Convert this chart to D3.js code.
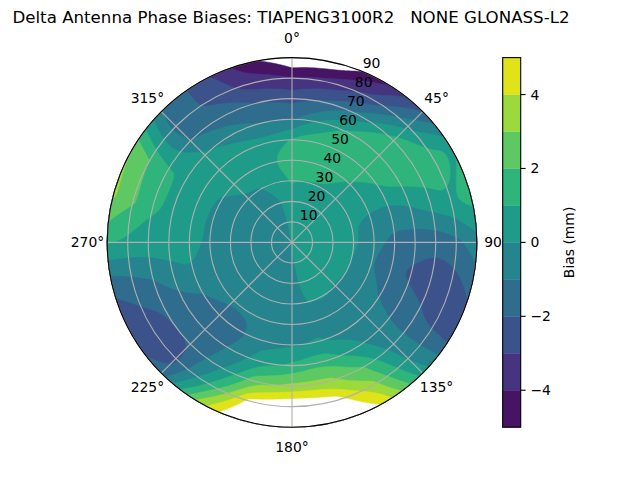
<!DOCTYPE html>
<html>
<head>
<meta charset="utf-8">
<title>Delta Antenna Phase Biases</title>
<script src="https://cdn.jsdelivr.net/npm/d3@7"></script>
<style>
  body { margin: 0; background: #fff; }
  text { font-family: "DejaVu Sans", sans-serif; fill: #000; }
</style>
</head>
<body>
<svg id="chart" width="640" height="480"></svg>
<script>
  // azimuth (deg, clockwise from north) and zenith (deg) nodes of the bias grid
  var azimuths = [0, 15, 30, 45, 60, 75, 90, 105, 120, 135, 150, 165,
                  180, 195, 210, 225, 240, 255, 270, 285, 300, 315, 330, 345];
  var zeniths = [0, 10, 20, 30, 40, 50, 60, 70, 80, 90];

  // bias (mm), one array per zenith ring, ordered by azimuth
  var biasCentre = 0.0;
  var bias10 = [0.3, 0.3, 0.35, 0.35, 0.3, 0.3, 0.3, 0.2, 0.2, 0.2, 0.15, 0.1, -0.1, -0.15, -0.2, -0.2, -0.2, -0.2, -0.3, -0.3, -0.3, -0.25, -0.2, -0.05];
  var bias20 = [0.6, 0.6, 0.65, 0.6, 0.5, 0.4, 0.4, 0.3, 0.25, 0.25, 0.3, 0.15, -0.2, -0.3, -0.35, -0.35, -0.35, -0.35, -0.5, -0.5, -0.5, -0.35, -0.25, 0.0];
  var bias30 = [1.05, 0.95, 0.9, 0.75, 0.5, 0.15, 0.2, 0.0, 0.0, -0.05, 0.05, 0.0, -0.3, -0.45, -0.6, -0.65, -0.5, -0.4, -0.5, -0.5, -0.4, -0.1, -0.05, 0.8];
  var bias40 = [1.6, 1.6, 1.4, 0.9, 0.6, -0.4, -0.7, -1.0, -0.6, -0.4, -0.35, -0.3, -0.4, -0.5, -0.9, -0.9, -0.6, -0.3, -0.2, -0.2, -0.1, 0.3, 0.5, 0.9];
  var bias50 = [1.1, 1.6, 1.7, 1.5, 0.8, -0.6, -1.3, -1.6, -1.1, -0.55, -0.3, 0.1, -0.1, -0.35, -1.2, -1.4, -1.0, -0.05, 0.4, 0.4, 0.4, 0.5, 0.6, 0.3];
  var bias60 = [-1.1, 0.3, 1.4, 1.7, 1.3, -0.2, -1.6, -2.2, -1.5, -0.6, 0.4, 1.8, 1.2, 0.6, -0.9, -1.7, -1.5, -0.4, 0.5, 0.8, 0.8, 0.2, -0.5, -1.0];
  var bias70 = [-2.3, -1.8, -0.5, 1.4, 1.6, 0.4, -1.7, -2.6, -1.8, -0.5, 2.0, 3.3, 3.3, 2.6, -0.2, -2.0, -2.0, -1.0, 0.6, 1.2, 1.2, -1.0, -1.5, -2.0];
  var bias80 = [-4.0, -3.6, -2.6, -0.3, 1.5, 0.9, -1.3, -2.5, -2.25, -0.1, 3.3, 5.6, 6.3, 5.3, 1.2, -2.3, -2.5, -1.5, 0.8, 2.2, 2.0, -1.5, -2.2, -3.5];
  var bias90 = [-6.0, -5.8, -4.2, -2.0, 0.9, 1.5, -0.4, -1.8, -2.6, 0.6, 4.8, 6.8, 7.0, 6.8, 3.5, -1.6, -2.5, -1.9, 1.1, 3.2, 3.0, -0.9, -2.5, -4.6];

  var levels = [-5, -4, -3, -2, -1, 0, 1, 2, 3, 4, 5];
  var colorTicks = [-4, -2, 0, 2, 4];
  var thetaTicks = [0, 45, 90, 135, 180, 225, 270, 315];
  var rTicks = [10, 20, 30, 40, 50, 60, 70, 80, 90];
  var title = "Delta Antenna Phase Biases: TIAPENG3100R2   NONE GLONASS-L2";

  var cx = 292, cy = 242.4, R = 184.8;
  var svg = d3.select("#chart");

  // grid values, the first azimuth repeated at 360 to close the circle
  var rings = [bias10, bias20, bias30, bias40, bias50, bias60, bias70, bias80, bias90];
  var n = azimuths.length + 1, m = zeniths.length;
  var values = [];
  for (var j = 0; j < m; j++) {
    for (var i = 0; i < n; i++) {
      values.push(j === 0 ? biasCentre : rings[j - 1][i % azimuths.length]);
    }
  }

  var contours = d3.contours().size([n, m]).thresholds(levels)(values);

  var azOf = d3.scaleLinear().domain([0.5, n - 0.5]).range([0, 360]).clamp(true);
  var zOf = d3.scaleLinear().domain([0.5, m - 0.5]).range([0, 90]).clamp(true);
  var r = d3.scaleLinear().domain([0, 90]).range([0, R]);

  function project(p) {
    var a = azOf(p[0]) * Math.PI / 180, rr = r(zOf(p[1]));
    return [cx + rr * Math.sin(a), cy - rr * Math.cos(a)];
  }

  // points on the grid border (rim, centre, seam) stay put while smoothing
  function fixed(p) {
    return p[0] <= 0.5 || p[0] >= n - 0.5 || p[1] <= 0.5 || p[1] >= m - 0.5;
  }

  function chaikin(ring) {
    var out = [];
    for (var k = 0; k < ring.length - 1; k++) {
      var a = ring[k], b = ring[k + 1];
      var fa = fixed(a), fb = fixed(b);
      var q = [0.75 * a[0] + 0.25 * b[0], 0.75 * a[1] + 0.25 * b[1]];
      var s = [0.25 * a[0] + 0.75 * b[0], 0.25 * a[1] + 0.75 * b[1]];
      if (fa) out.push(a); else out.push(q);
      if (!fb) out.push(s);
    }
    out.push(out[0]);
    return out;
  }

  function ringPath(ring) {
    for (var it = 0; it < 3; it++) ring = chaikin(ring);
    var pts = [];
    for (var k = 0; k < ring.length - 1; k++) {
      var a = ring[k], b = ring[k + 1];
      for (var s = 0; s < 4; s++) {
        var t = s / 4;
        pts.push(project([a[0] + (b[0] - a[0]) * t, a[1] + (b[1] - a[1]) * t]));
      }
    }
    return "M" + pts.map(function(p) { return p[0].toFixed(2) + "," + p[1].toFixed(2); }).join("L") + "Z";
  }

  function bandColor(v) {
    if (v >= 5) return "#ffffff";
    return d3.interpolateViridis((v + 5.5) / 10);
  }

  svg.append("g").selectAll("path")
    .data(contours)
    .enter().append("path")
      .attr("d", function(d) {
        return d.coordinates.map(function(poly) {
          return poly.map(ringPath).join("");
        }).join("");
      })
      .attr("fill", function(d) { return bandColor(d.value); })
      .attr("stroke", function(d) { return bandColor(d.value); })
      .attr("stroke-width", 0.5)
      .attr("fill-rule", "evenodd");

  // grid
  var grid = svg.append("g").attr("stroke", "#b0b0b0").attr("stroke-width", 1.1).attr("fill", "none");
  grid.selectAll("circle")
    .data(rTicks)
    .enter().append("circle")
      .attr("cx", cx).attr("cy", cy)
      .attr("r", function(d) { return r(d); });
  grid.selectAll("line")
    .data(thetaTicks)
    .enter().append("line")
      .attr("x1", cx).attr("y1", cy)
      .attr("x2", function(d) { return cx + R * Math.sin(d * Math.PI / 180); })
      .attr("y2", function(d) { return cy - R * Math.cos(d * Math.PI / 180); });

  svg.append("circle")
    .attr("cx", cx).attr("cy", cy).attr("r", R)
    .attr("fill", "none").attr("stroke", "#000").attr("stroke-width", 1.1);

  // theta labels
  svg.append("g").selectAll("text")
    .data(thetaTicks)
    .enter().append("text")
      .attr("x", function(d) { return cx + (R + 19.7) * Math.sin(d * Math.PI / 180); })
      .attr("y", function(d) { return cy - (R + 19.7) * Math.cos(d * Math.PI / 180); })
      .attr("dy", "0.36em")
      .attr("text-anchor", "middle")
      .style("font-size", "13.9px")
      .text(function(d) { return d + "\u00b0"; });

  // radial labels along 22.5 deg
  var rlab = 22.5 * Math.PI / 180;
  svg.append("g").selectAll("text")
    .data(rTicks)
    .enter().append("text")
      .attr("x", function(d) { return cx + r(d) * Math.sin(rlab); })
      .attr("y", function(d) { return cy - r(d) * Math.cos(rlab) - 3.3; })
      .attr("text-anchor", "start")
      .style("font-size", "13.9px")
      .text(function(d) { return d; });

  // colorbar
  var cbX = 502.7, cbW = 18;
  var cbY = d3.scaleLinear().domain([-5, 5]).range([427.2, 57.6]);
  var cb = svg.append("g");
  cb.selectAll("rect")
    .data(levels.slice(0, -1))
    .enter().append("rect")
      .attr("x", cbX)
      .attr("y", function(d) { return cbY(d + 1); })
      .attr("width", cbW)
      .attr("height", function(d) { return cbY(d) - cbY(d + 1); })
      .attr("fill", function(d) { return bandColor(d); })
      .attr("stroke", function(d) { return bandColor(d); })
      .attr("stroke-width", 0.3);
  cb.append("rect")
    .attr("x", cbX).attr("y", cbY(5))
    .attr("width", cbW).attr("height", cbY(-5) - cbY(5))
    .attr("fill", "none").attr("stroke", "#000").attr("stroke-width", 1.1);
  cb.selectAll("line")
    .data(colorTicks)
    .enter().append("line")
      .attr("x1", cbX + cbW).attr("x2", cbX + cbW + 4.9)
      .attr("y1", function(d) { return cbY(d); })
      .attr("y2", function(d) { return cbY(d); })
      .attr("stroke", "#000").attr("stroke-width", 1.1);
  cb.selectAll("text")
    .data(colorTicks)
    .enter().append("text")
      .attr("x", cbX + cbW + 9.7)
      .attr("y", function(d) { return cbY(d); })
      .attr("dy", "0.36em")
      .style("font-size", "13.9px")
      .text(function(d) { return d < 0 ? "\u2212" + Math.abs(d) : d; });
  cb.append("text")
    .attr("transform", "translate(574,242.4) rotate(-90)")
    .attr("text-anchor", "middle")
    .style("font-size", "13.9px")
    .text("Bias (mm)");

  svg.append("text")
    .attr("x", 291)
    .attr("y", 22.5)
    .attr("text-anchor", "middle")
    .style("font-size", "16.67px")
    .style("white-space", "pre")
    .attr("xml:space", "preserve")
    .text(title);
</script>
</body>
</html>
